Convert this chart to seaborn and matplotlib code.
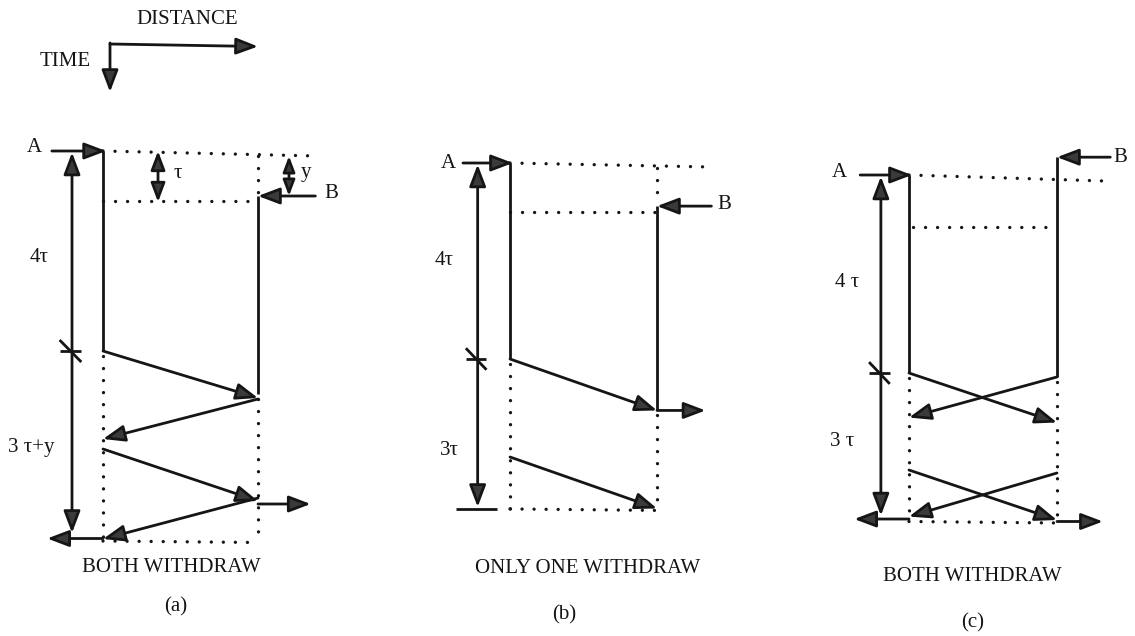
import matplotlib
matplotlib.use("Agg")
import matplotlib.pyplot as plt
import seaborn as sns
import pandas as pd

sns.set_theme(style="white")
plt.rcParams["font.family"] = ["Liberation Serif", "DejaVu Serif"]

INK = "#151515"
HEAD = "#3a3a3a"
FS = 15

# ---- content: times are in units of tau, distance 0 = station A, 1 = station B ----
titles = ["BOTH WITHDRAW", "ONLY ONE WITHDRAW", "BOTH WITHDRAW"]
tags = ["(a)", "(b)", "(c)"]
upper_span = ["4τ", "4τ", "4 τ"]
lower_span = ["3 τ+y", "3τ", "3 τ"]
a_withdraw = [4.0, 4.0, 4.0]
b_start = [0.9, 0.88, -0.36]
b_withdraw = [4.85, 5.05, 4.08]
end_time = [7.8, 7.06, 7.0]
guide_time = [1.0, 1.0, 1.05]
msgs_a_to_b = [[(4.0, 4.94), (5.96, 7.0)],
               [(4.0, 5.05), (6.0, 7.05)],
               [(4.0, 5.0), (5.96, 6.97)]]
msgs_b_to_a = [[(4.96, 5.76), (6.94, 7.76)],
               [],
               [(4.08, 4.9), (6.02, 6.9)]]
b_exit = [7.06, 5.05, 7.0]
span_end = [7.64, 7.02, 6.88]

# ---- layout of each panel on the canvas (pixels): x of A, x of B, y of t=0, pixels per tau ----
frames = [(103, 258, 151, 50.0), (510, 657, 163, 49.0), (909, 1057, 175, 49.5)]
ruler_x = [-0.2, -0.22, -0.19]
top_reach = [1.38, 1.34, 1.31]
top_drop = [0.1, 0.08, 0.12]
entry_from = [-0.33, -0.32, -0.33]
exit_to = [1.34, 1.33, 1.31]
b_entry_from = [1.37, 1.37, 1.36]
base_left = [-0.36, -0.37, -0.37]
a_lbl = [(-0.44, -0.06), (-0.42, 0.0), (-0.47, -0.06)]
b_lbl = [(1.47, 0.84), (1.46, 0.84), (1.43, -0.36)]
up_lbl = [(-0.41, 2.14), (-0.45, 1.98), (-0.42, 2.18)]
lo_lbl = [(-0.46, 5.92), (-0.41, 5.86), (-0.45, 5.39)]
title_pos = [(0.44, 8.34), (0.53, 8.27), (0.43, 8.12)]
tag_pos = [(0.47, 9.12), (0.37, 9.22), (0.43, 9.05)]

W, H = 1135, 636
fig = plt.figure(figsize=(W / 100, H / 100), dpi=100)
fig.patch.set_facecolor("white")


def frame_axes(xa, xb, y0, tau):
    ax = fig.add_axes([0, 0, 1, 1])
    ax.set_axis_off()
    ax.patch.set_alpha(0)
    w = xb - xa
    return ax, ((0 - xa) / w, (W - xa) / w), ((H - y0) / tau, (0 - y0) / tau)


def draw_paths(ax, segs, dotted=False):
    rows = []
    for i, seg in enumerate(segs):
        for x, t in seg:
            rows.append({"x": x, "t": t, "seg": i})
    df = pd.DataFrame(rows)
    if dotted:
        style = dict(lw=2.4, linestyle=(0, (0.01, 3.6)), dash_capstyle="round")
    else:
        style = dict(lw=2.0, linestyle="-", solid_capstyle="butt")
    sns.lineplot(data=df, x="x", y="t", units="seg", estimator=None, sort=False,
                 ax=ax, color=INK, legend=False, **style)


def arrow(ax, start, end, both=False, lw=2.0, scale=14):
    style = "<|-|>" if both else "-|>"
    ax.annotate("", xy=end, xytext=start,
                arrowprops=dict(arrowstyle=f"{style},head_length=0.95,head_width=0.36",
                                mutation_scale=scale, lw=lw, facecolor=HEAD,
                                edgecolor=INK, shrinkA=0, shrinkB=0))


for k in range(3):
    ax, xl, yl = frame_axes(*frames[k])
    ta, tb0, tb1, te = a_withdraw[k], b_start[k], b_withdraw[k], end_time[k]

    solid = [[(0, 0), (0, ta)], [(1, tb0), (1, tb1)]]
    dots = [[(0, 0), (top_reach[k], top_drop[k])],
            [(0.03 if k == 2 else 0, guide_time[k]), (1, guide_time[k])],
            [(0, ta + 0.1), (0, te)],
            [(1, tb1 + 0.1), (1, te)],
            [(0, te), (1, te + 0.03)]]
    if tb0 > 0:
        dots.append([(1, 0.1), (1, tb0 - 0.05)])
    # tick marking the end of the 4 tau interval on the ruler
    rx = ruler_x[k]
    solid.append([(rx - 0.08, ta), (rx + 0.06, ta)])
    solid.append([(rx - 0.08, ta - 0.22), (rx + 0.06, ta + 0.22)])
    if k == 1:
        solid.append([(base_left[k], te), (-0.09, te)])
    draw_paths(ax, solid)
    draw_paths(ax, dots, dotted=True)

    # messages between stations
    for s, a in msgs_a_to_b[k]:
        arrow(ax, (0, s), (1, a))
    for s, a in msgs_b_to_a[k]:
        arrow(ax, (1, s), (0, a))

    # entries and exits
    arrow(ax, (entry_from[k], 0), (0.02, 0))
    arrow(ax, (b_entry_from[k], tb0), (1.0, tb0))
    arrow(ax, (1, b_exit[k]), (exit_to[k], b_exit[k]))
    if k != 1:
        arrow(ax, (0, te - 0.05), (base_left[k], te - 0.05))

    # ruler spanning the whole exchange
    arrow(ax, (rx, span_end[k]), (rx, 0.03), both=True)

    if k == 0:
        arrow(ax, (0.355, 0.0), (0.355, 1.02), both=True, scale=12)
        arrow(ax, (1.2, 0.1), (1.2, 0.9), both=True, scale=10)
        ax.text(0.48, 0.44, "τ", fontsize=FS, ha="center", va="center", color=INK)
        ax.text(1.31, 0.44, "y", fontsize=FS, ha="center", va="center", color=INK)

    ax.text(*a_lbl[k], "A", fontsize=FS, ha="center", va="center", color=INK)
    ax.text(*b_lbl[k], "B", fontsize=FS, ha="center", va="center", color=INK)
    ax.text(*up_lbl[k], upper_span[k], fontsize=FS, ha="center", va="center", color=INK)
    ax.text(*lo_lbl[k], lower_span[k], fontsize=FS, ha="center", va="center", color=INK)
    ax.text(*title_pos[k], titles[k], fontsize=FS, ha="center", va="center", color=INK)
    ax.text(*tag_pos[k], tags[k], fontsize=FS, ha="center", va="center", color=INK)

    ax.set_xlim(*xl)
    ax.set_ylim(*yl)

# key showing the direction of the two axes
key = fig.add_axes([0, 0, 1, 1])
key.set_axis_off()
key.patch.set_alpha(0)
arrow(key, (110, 44), (258, 46.5))
arrow(key, (110, 43), (110, 92))
key.text(187, 20, "DISTANCE", fontsize=FS, ha="center", va="center", color=INK)
key.text(65, 62, "TIME", fontsize=FS, ha="center", va="center", color=INK)
key.set_xlim(0, W)
key.set_ylim(H, 0)

fig.savefig("out.png", dpi=100, facecolor="white")
